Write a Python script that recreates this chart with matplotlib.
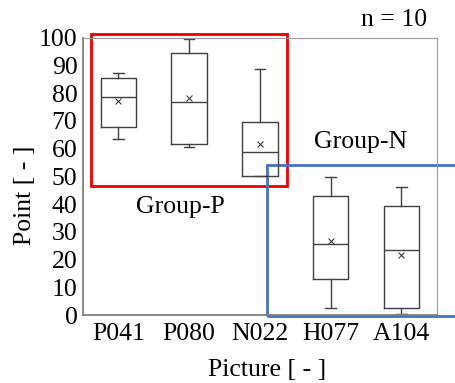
import matplotlib
matplotlib.use("Agg")
import matplotlib.pyplot as plt
from matplotlib.patches import Rectangle

# Box plot summary values
pictures = ['P041', 'P080', 'N022', 'H077', 'A104']
whis_low = [63.4, 60.7, 50.1, 2.6, 0.4]
q1 = [67.7, 61.8, 50.1, 13.1, 2.4]
median = [78.5, 76.9, 58.8, 25.5, 23.3]
q3 = [85.6, 94.4, 69.7, 43.0, 39.3]
whis_high = [87.2, 99.6, 88.7, 49.9, 46.3]
mean = [77.2, 78.3, 61.7, 26.7, 21.7]

plt.rcParams['font.family'] = ['Liberation Serif', 'DejaVu Serif']
fs = 18.5

fig = plt.figure(figsize=(4.56, 3.83), dpi=100)
ax = fig.add_axes([0.182, 0.1775, 0.776, 0.724])

stats = []
for i, name in enumerate(pictures):
    stats.append(dict(label=name, whislo=whis_low[i], q1=q1[i], med=median[i],
                      q3=q3[i], whishi=whis_high[i], mean=mean[i], fliers=[]))

lc = '#404040'
ax.bxp(stats, positions=range(1, 6), widths=0.5, showmeans=True,
       boxprops=dict(color=lc, linewidth=1),
       medianprops=dict(color=lc, linewidth=1),
       whiskerprops=dict(color=lc, linewidth=1),
       capprops=dict(color=lc, linewidth=1),
       capwidths=0.15,
       meanprops=dict(marker='x', markeredgecolor=lc, markersize=4.5, markeredgewidth=0.8))

ax.set_xlim(0.5, 5.5)
ax.set_ylim(0, 100)
ax.set_yticks(range(0, 101, 10))
ax.tick_params(length=0, labelsize=fs, pad=4)
ax.tick_params(axis='x', pad=6)
for side in ['top', 'right']:
    ax.spines[side].set_color('#9a9a9a')
for side in ['left', 'bottom']:
    ax.spines[side].set_color('#808080')
    ax.spines[side].set_linewidth(1.3)

# group frames
ax.add_patch(Rectangle((0.609, 46.6), 3.38 - 0.609, 101.2 - 46.6, fill=False,
                       edgecolor='#ee0000', linewidth=2, clip_on=False))
ax.add_patch(Rectangle((3.097, -0.4), 6.0 - 3.097, 54.1 + 0.4, fill=False,
                       edgecolor='#4472c4', linewidth=2, clip_on=False))

ax.text(1.87, 39, 'Group-P', fontsize=fs, ha='center', va='center')
ax.text(4.42, 62.4, 'Group-N', fontsize=fs, ha='center', va='center')
fig.text(0.937, 0.948, 'n = 10', fontsize=fs, ha='right', va='center')

fig.text(0.585, 0.035, 'Picture [ - ]', fontsize=fs, ha='center', va='center')
fig.text(0.055, 0.49, 'Point [ - ]', fontsize=fs, ha='center', va='center', rotation=90)

fig.savefig('out.png', dpi=100)
